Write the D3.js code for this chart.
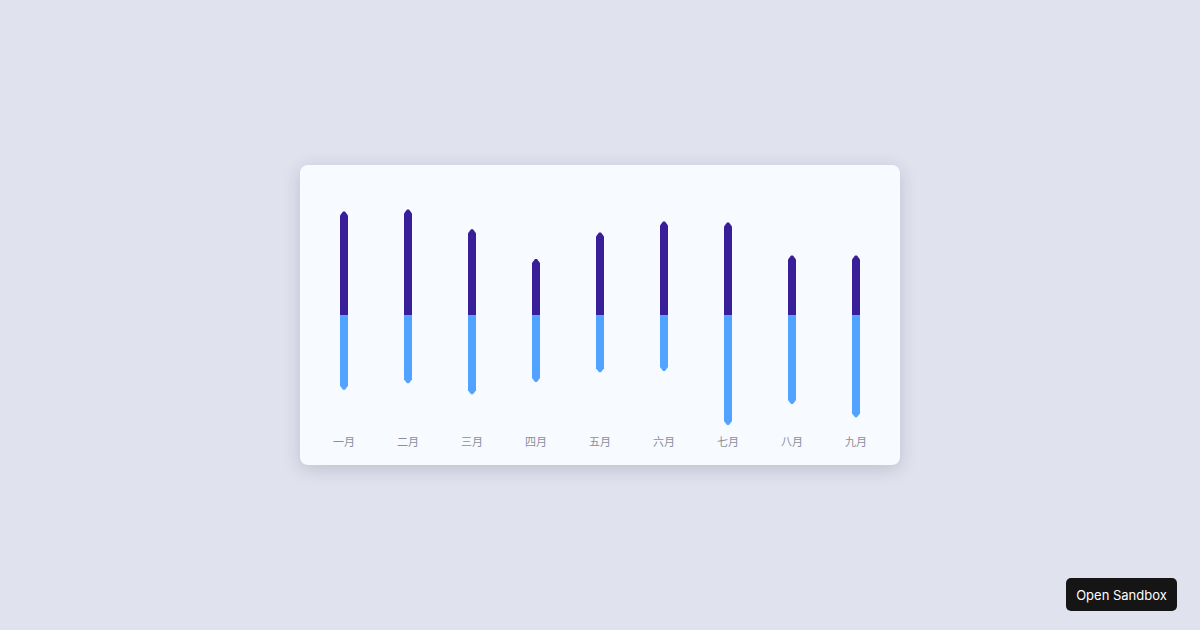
<!DOCTYPE html>
<html>
<head>
<meta charset="utf-8">
<script src="https://cdn.jsdelivr.net/npm/d3@7"></script>
<style>
  html, body { margin: 0; padding: 0; width: 1200px; height: 630px; background: #e0e2ee; overflow: hidden; font-family: "Inter", "DejaVu Sans", sans-serif; }
  #card { position: absolute; left: 300px; top: 165px; width: 600px; height: 300px; background: #f7fbff; border-radius: 8px; box-shadow: 0 4px 18px rgba(40, 40, 70, 0.18); }
  #btn { position: absolute; left: 1066px; top: 578px; width: 111px; height: 33px; background: #151515; color: #fff; border-radius: 5px; font-size: 13px; display: flex; align-items: center; justify-content: center; font-family: "Inter", sans-serif; }
</style>
</head>
<body>
<div id="card"></div>
<div id="btn">Open Sandbox</div>
<script>
const categories = ["一月", "二月", "三月", "四月", "五月", "六月", "七月", "八月", "九月"];
const upValues = [94, 96, 78, 51, 75, 85, 84, 54, 54];
const downValues = [68, 62, 72, 61, 52, 51, 100, 81, 93];

const W = 600, H = 300;
const svg = d3.select("#card").append("svg").attr("width", W).attr("height", H);

const x = d3.scaleBand().domain(categories).range([12, 588]).paddingInner(0);
const y = d3.scaleLinear().domain([-100, 100]).range([260, 40]);

const bw = 8, tip = 4, apex = 1;
function barPath(cx, y0, y1) {
  const l = cx - bw / 2, r = cx + bw / 2;
  const dir = y1 < y0 ? 1 : -1;
  const yt = y1 + dir * tip;
  return `M${l},${y0} L${l},${yt} L${cx - apex},${y1} L${cx + apex},${y1} L${r},${yt} L${r},${y0} Z`;
}

const g = svg.append("g");
categories.forEach((c, i) => {
  const cx = x(c) + x.bandwidth() / 2;
  g.append("path").attr("d", barPath(cx, y(0), y(upValues[i]))).attr("fill", "#381e99");
  g.append("path").attr("d", barPath(cx, y(0), y(-downValues[i]))).attr("fill", "#52a2ff");
});

svg.append("g").selectAll("text").data(categories).join("text")
  .attr("x", d => x(d) + x.bandwidth() / 2)
  .attr("y", 281)
  .attr("text-anchor", "middle")
  .attr("fill", "#8a8e99")
  .attr("font-size", 11)
  .attr("font-family", "'Noto Sans CJK SC', sans-serif")
  .text(d => d);
</script>
</body>
</html>
